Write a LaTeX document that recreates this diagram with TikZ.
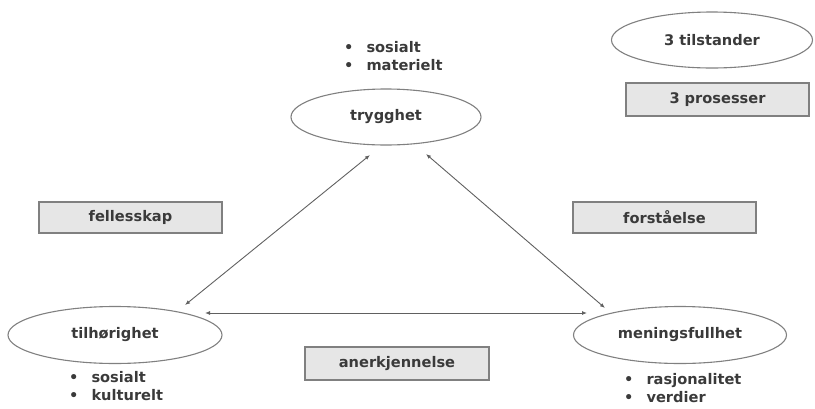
\documentclass[tikz,border=0pt]{standalone}
\usepackage{fontspec}
\setmainfont{DejaVu Sans}
\usetikzlibrary{shapes.geometric,arrows.meta}
\definecolor{txt}{HTML}{3A3A3A}
\definecolor{edge}{HTML}{808080}
\definecolor{boxfill}{HTML}{E6E6E6}
\begin{document}
\begin{tikzpicture}[x=1pt,y=-1pt,
  every node/.style={font=\fontsize{14.6}{17}\selectfont\bfseries, text=txt},
  state/.style={ellipse, draw=edge, line width=1.1pt, fill=white, inner sep=0pt},
  proc/.style={rectangle, draw=edge, line width=1.1pt, fill=boxfill, inner sep=0pt},
  bullets/.style={align=left, anchor=west, inner sep=0pt, font=\fontsize{14.6}{18}\selectfont\bfseries},
  link/.style={draw=edge!75!black, line width=0.9pt, {Latex[length=5pt,width=4pt]}-{Latex[length=5pt,width=4pt]}}
]
\useasboundingbox (0,0) rectangle (815,408);

% states
\node[state, minimum width=190pt, minimum height=56pt] (tryg) at (386,117) {trygghet};
\node[state, minimum width=214pt, minimum height=57pt] (tilh) at (115,335) {tilhørighet};
\node[state, minimum width=213pt, minimum height=57pt] (mening) at (680,335) {meningsfullhet};
\node[state, minimum width=201pt, minimum height=56pt] (legS) at (712,40) {3 tilstander};

% processes
\node[proc, minimum width=183pt, minimum height=33pt] (legP) at (717.5,99.5) {3 prosesser};
\node[proc, minimum width=183pt, minimum height=31pt] (fell) at (130.5,217.5) {fellesskap};
\node[proc, minimum width=183pt, minimum height=31pt] (forst) at (664.5,217.5) {forståelse};
\node[proc, minimum width=184pt, minimum height=33pt] (anerk) at (397,363.5) {anerkjennelse};

% bullet lists
\node[bullets] (bTop) at (344,56.5) {•\hspace{13pt}sosialt\\•\hspace{13pt}materielt};
\node[bullets] (bLeft) at (69,386) {•\hspace{13pt}sosialt\\•\hspace{13pt}kulturelt};
\node[bullets] (bRight) at (624,388.5) {•\hspace{13pt}rasjonalitet\\•\hspace{13pt}verdier};

% connector ends
\coordinate (a1) at (370,155);
\coordinate (a2) at (185,305);
\coordinate (b1) at (426,154);
\coordinate (b2) at (605,308);
\coordinate (c1) at (205,313);
\coordinate (c2) at (587,313);

\draw[link] (a1) -- (a2);
\draw[link] (b1) -- (b2);
\draw[link] (c1) -- (c2);
\end{tikzpicture}
\end{document}
